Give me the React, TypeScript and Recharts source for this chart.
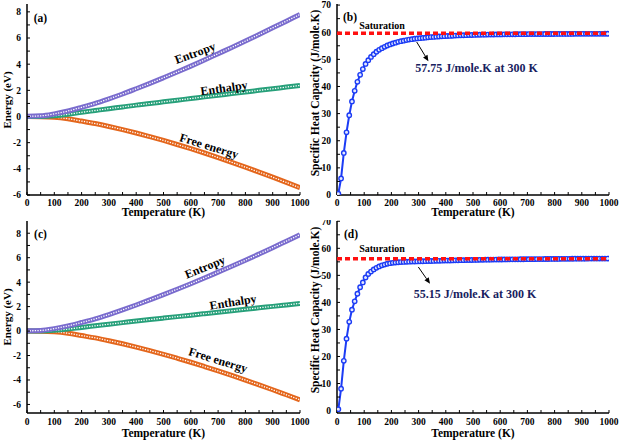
import React from "react";
import { LineChart, Line, XAxis, YAxis, ReferenceLine } from "recharts";

const FONT = '"Liberation Serif", "Times New Roman", serif';

// temperature grid for the energy panels (K)
const energyTemps = [0, 50, 100, 150, 200, 250, 300, 350, 400, 450, 500, 550, 600, 650, 700, 750, 800, 850, 900, 950, 1000];

// panel (a)
const entropyA = [0.02, 0.05, 0.2, 0.42, 0.7, 1.0, 1.35, 1.72, 2.12, 2.53, 2.96, 3.4, 3.85, 4.32, 4.8, 5.28, 5.77, 6.27, 6.78, 7.29, 7.8];
const enthalpyA = [0, 0.01, 0.06, 0.17, 0.32, 0.46, 0.6, 0.73, 0.87, 0.99, 1.12, 1.25, 1.37, 1.5, 1.62, 1.75, 1.87, 2.0, 2.12, 2.25, 2.37];
const freeEnergyA = [0, -0.01, -0.05, -0.17, -0.35, -0.54, -0.76, -1.0, -1.26, -1.54, -1.83, -2.14, -2.46, -2.79, -3.14, -3.5, -3.87, -4.25, -4.64, -5.04, -5.45];

// panel (c)
const entropyC = [0.02, 0.05, 0.2, 0.42, 0.7, 1.0, 1.35, 1.73, 2.13, 2.55, 2.98, 3.42, 3.87, 4.34, 4.82, 5.3, 5.79, 6.3, 6.82, 7.35, 7.88];
const enthalpyC = [0, 0.01, 0.06, 0.16, 0.3, 0.43, 0.56, 0.69, 0.82, 0.94, 1.06, 1.18, 1.3, 1.42, 1.54, 1.66, 1.78, 1.9, 2.02, 2.14, 2.26];
const freeEnergyC = [0, -0.01, -0.06, -0.18, -0.37, -0.56, -0.79, -1.04, -1.31, -1.6, -1.9, -2.22, -2.55, -2.9, -3.26, -3.63, -4.01, -4.4, -4.8, -5.21, -5.62];

// temperature grid for the heat capacity panels (K)
const cvTemps = [
  5, 15, 25, 35, 45, 55, 65, 75, 85, 95,
  105, 115, 125, 135, 145, 155, 165, 175, 185, 195,
  205, 215, 225, 235, 245, 255, 265, 275, 285, 295,
  305, 315, 325, 335, 345, 355, 365, 375, 385, 395,
  405, 415, 425, 435, 445, 455, 465, 475, 485, 495,
  505, 515, 525, 535, 545, 555, 565, 575, 585, 595,
  605, 615, 625, 635, 645, 655, 665, 675, 685, 695,
  705, 715, 725, 735, 745, 755, 765, 775, 785, 795,
  805, 815, 825, 835, 845, 855, 865, 875, 885, 895,
  905, 915, 925, 935, 945, 955, 965, 975, 985, 995,
];

// panel (b)
const cvB = [
  0.5, 6.1, 15.5, 23.1, 29.4, 34.5, 38.4, 41.7, 44.3, 46.4,
  48.3, 49.7, 50.9, 51.9, 52.8, 53.5, 54.1, 54.6, 55.1, 55.5,
  55.85, 56.15, 56.45, 56.7, 56.9, 57.1, 57.3, 57.45, 57.6, 57.7,
  57.8, 57.9, 58.0, 58.1, 58.2, 58.28, 58.35, 58.42, 58.48, 58.54,
  58.6, 58.65, 58.7, 58.75, 58.8, 58.84, 58.88, 58.92, 58.95, 58.98,
  59.01, 59.04, 59.06, 59.08, 59.1, 59.12, 59.14, 59.16, 59.17, 59.19,
  59.2, 59.21, 59.22, 59.23, 59.24, 59.25, 59.26, 59.27, 59.28, 59.29,
  59.3, 59.3, 59.31, 59.32, 59.32, 59.33, 59.34, 59.34, 59.35, 59.35,
  59.36, 59.36, 59.37, 59.37, 59.38, 59.38, 59.38, 59.39, 59.39, 59.4,
  59.4, 59.4, 59.41, 59.41, 59.41, 59.42, 59.42, 59.42, 59.43, 59.43,
];

// panel (d)
const cvD = [
  0.5, 8.1, 18.4, 26.6, 32.8, 37.3, 40.4, 43.2, 45.6, 47.4,
  49.2, 50.5, 51.4, 52.2, 52.8, 53.3, 53.7, 54.0, 54.3, 54.5,
  54.65, 54.75, 54.85, 54.92, 54.98, 55.03, 55.07, 55.1, 55.13, 55.15,
  55.18, 55.21, 55.24, 55.27, 55.3, 55.33, 55.36, 55.39, 55.42, 55.45,
  55.48, 55.5, 55.53, 55.55, 55.58, 55.6, 55.62, 55.64, 55.66, 55.68,
  55.7, 55.72, 55.74, 55.76, 55.78, 55.8, 55.81, 55.83, 55.84, 55.86,
  55.87, 55.88, 55.9, 55.91, 55.92, 55.93, 55.94, 55.95, 55.96, 55.97,
  55.98, 55.99, 56.0, 56.01, 56.02, 56.03, 56.04, 56.05, 56.06, 56.07,
  56.08, 56.09, 56.1, 56.11, 56.12, 56.13, 56.14, 56.15, 56.16, 56.17,
  56.18, 56.18, 56.19, 56.19, 56.2, 56.2, 56.21, 56.21, 56.22, 56.22,
];

const saturationB = 59.6;
const saturationD = 56.1;
const arrowB = [{ T: 293, v: 56.4 }, { T: 336, v: 49.3 }];
const arrowD = [{ T: 299, v: 53.1 }, { T: 342, v: 46.9 }];

const xTicks = [0, 50, 100, 150, 200, 250, 300, 350, 400, 450, 500, 550, 600, 650, 700, 750, 800, 850, 900, 950, 1000];
const energyTicks = [-6, -5, -4, -3, -2, -1, 0, 1, 2, 3, 4, 5, 6, 7, 8];
const cvTicks = [0, 5, 10, 15, 20, 25, 30, 35, 40, 45, 50, 55, 60, 65, 70];

const PURPLE = "#7a6cce";
const GREEN = "#27a07a";
const ORANGE = "#e4661c";
const BLUE = "#1c3cf5";

const tickStyle = { fill: "#000", fontSize: 9.5, fontWeight: 700, fontFamily: FONT };
const frame = { stroke: "#000", strokeWidth: 1.5 };

const ArrowShape = (p: any) => {
  const { x1, y1, x2, y2 } = p;
  const ang = Math.atan2(y2 - y1, x2 - x1);
  const bx = x2 - 6 * Math.cos(ang);
  const by = y2 - 6 * Math.sin(ang);
  const px = -Math.sin(ang) * 2.6;
  const py = Math.cos(ang) * 2.6;
  return (
    <g>
      <line x1={x1} y1={y1} x2={bx} y2={by} stroke="#000" strokeWidth={1} />
      <polygon points={`${x2},${y2} ${bx + px},${by + py} ${bx - px},${by - py}`} fill="#000" />
    </g>
  );
};

const Txt = ({ x, y, size = 11, rot = 0, color = "#000", children }: any) => (
  <div
    style={{
      position: "absolute",
      left: x,
      top: y,
      transform: `translate(-50%, -50%) rotate(${rot}deg)`,
      fontFamily: FONT,
      fontWeight: 700,
      fontSize: size,
      color,
      whiteSpace: "nowrap",
      lineHeight: 1,
    }}
  >
    {children}
  </div>
);

const Axes = ({ axisH, tickMargin, yDomain, yTicks, yStep }: any) => [
  <XAxis
    key="x"
    dataKey="T"
    type="number"
    domain={[0, 1000]}
    ticks={xTicks}
    interval={0}
    allowDataOverflow
    height={axisH}
    tickSize={-3}
    tickMargin={tickMargin}
    tickFormatter={(v: number) => (v % 100 === 0 ? String(v) : "")}
    tick={tickStyle}
    axisLine={frame}
    tickLine={{ stroke: "#000", strokeWidth: 1 }}
  />,
  <XAxis key="xt" xAxisId="top" orientation="top" dataKey="T" type="number" domain={[0, 1000]} height={0} tick={false} tickLine={false} axisLine={frame} />,
  <YAxis
    key="y"
    type="number"
    domain={yDomain}
    ticks={yTicks}
    interval={0}
    allowDataOverflow
    width={27}
    tickSize={-3}
    tickMargin={9}
    tickFormatter={(v: number) => (v % yStep === 0 ? String(v) : "")}
    tick={tickStyle}
    axisLine={frame}
    tickLine={{ stroke: "#000", strokeWidth: 1 }}
  />,
  <YAxis key="yr" yAxisId="right" orientation="right" type="number" domain={yDomain} width={0} tick={false} tickLine={false} axisLine={frame} />,
];

const EnergyPanel = ({ left, top, height, marginTop, axisH, tickMargin, yDomain, entropy, enthalpy, free }: any) => {
  const rows = energyTemps.map((T, i) => ({ T, s: entropy[i], h: enthalpy[i], f: free[i] }));
  const band = (key: string, color: string) => [
    <Line key={key} type="monotone" dataKey={key} stroke={color} strokeWidth={5} dot={false} isAnimationActive={false} />,
    <Line key={key + "w"} type="monotone" dataKey={key} stroke="#fff" strokeWidth={1.3} strokeDasharray="1.3 1.3" dot={false} isAnimationActive={false} />,
  ];
  return (
    <div style={{ position: "absolute", left, top }}>
      <LineChart width={310} height={height} data={rows} margin={{ top: marginTop, right: 10, bottom: 0, left: 0 }}>
        {Axes({ axisH, tickMargin, yDomain, yTicks: energyTicks, yStep: 2 })}
        {band("f", ORANGE)}
        {band("h", GREEN)}
        {band("s", PURPLE)}
      </LineChart>
    </div>
  );
};

const CvPanel = ({ left, top, height, marginTop, axisH, tickMargin, yDomain, cv, saturation, arrow }: any) => {
  const rows = cvTemps.map((T, i) => ({ T, cv: cv[i] }));
  const satRows = [{ T: 0, sat: saturation }, { T: 1000, sat: saturation }];
  return (
    <div style={{ position: "absolute", left, top }}>
      <LineChart width={310} height={height} data={rows} margin={{ top: marginTop, right: 11, bottom: 0, left: 0 }}>
        {Axes({ axisH, tickMargin, yDomain, yTicks: cvTicks, yStep: 10 })}
        <Line
          type="linear"
          dataKey="cv"
          stroke={BLUE}
          strokeWidth={2}
          dot={{ r: 2.2, fill: "#e4e9ff", stroke: BLUE, strokeWidth: 1.4 }}
          isAnimationActive={false}
        />
      </LineChart>
      {/* second layer so the saturation line and the arrow sit above the markers */}
      <div style={{ position: "absolute", left: 0, top: 0, pointerEvents: "none" }}>
        <LineChart width={310} height={height} data={satRows} margin={{ top: marginTop, right: 11, bottom: axisH, left: 27 }}>
          <XAxis dataKey="T" type="number" domain={[0, 1000]} allowDataOverflow hide />
          <YAxis type="number" domain={yDomain} allowDataOverflow hide />
          <Line type="linear" dataKey="sat" stroke="#ff1010" strokeWidth={3.5} strokeDasharray="5 3" dot={false} isAnimationActive={false} />
          <ReferenceLine
            segment={[{ x: arrow[0].T, y: arrow[0].v }, { x: arrow[1].T, y: arrow[1].v }]}
            shape={ArrowShape}
            ifOverflow="visible"
          />
        </LineChart>
      </div>
    </div>
  );
};

export default function App() {
  return (
    <div style={{ position: "absolute", left: 0, top: 0, width: 620, height: 442, background: "#fff", overflow: "hidden" }}>
      <EnergyPanel left={0} top={0} height={220} marginTop={4} axisH={25} tickMargin={6.8} yDomain={[-6, 8.6]}
        entropy={entropyA} enthalpy={enthalpyA} free={freeEnergyA} />
      <CvPanel left={310} top={0} height={220} marginTop={4} axisH={25} tickMargin={6.8} yDomain={[0, 70.4]}
        cv={cvB} saturation={saturationB} arrow={arrowB} />
      <EnergyPanel left={0} top={220} height={222} marginTop={1} axisH={29} tickMargin={8} yDomain={[-6.7, 9.0]}
        entropy={entropyC} enthalpy={enthalpyC} free={freeEnergyC} />
      <CvPanel left={310} top={220} height={222} marginTop={1} axisH={29} tickMargin={8} yDomain={[-0.9, 70.1]}
        cv={cvD} saturation={saturationD} arrow={arrowD} />

      <Txt x={40.5} y={19.3} size={11.5}>(a)</Txt>
      <Txt x={350} y={18.3} size={11.5}>(b)</Txt>
      <Txt x={40.5} y={234.7} size={11.5}>(c)</Txt>
      <Txt x={351} y={234.7} size={11.5}>(d)</Txt>

      <Txt x={195} y={53.3} size={12} rot={-20}>Entropy</Txt>
      <Txt x={223.7} y={88.3} size={12} rot={-8}>Enthalpy</Txt>
      <Txt x={209} y={145.7} size={12} rot={17}>Free energy</Txt>
      <Txt x={205} y={267.3} size={12} rot={-22}>Entropy</Txt>
      <Txt x={233.3} y={301.7} size={12} rot={-9}>Enthalpy</Txt>
      <Txt x={218.3} y={360} size={12} rot={17}>Free energy</Txt>

      <Txt x={382} y={25.5} size={10}>Saturation</Txt>
      <Txt x={382} y={249} size={10}>Saturation</Txt>
      <Txt x={476.5} y={68.3} size={12} color="#17215e">57.75 J/mole.K at 300 K</Txt>
      <Txt x={475} y={294} size={12} color="#17215e">55.15 J/mole.K at 300 K</Txt>

      <Txt x={163.5} y={213} size={11.5}>Temperature (K)</Txt>
      <Txt x={473} y={213} size={11.5}>Temperature (K)</Txt>
      <Txt x={163.5} y={434} size={11.5}>Temperature (K)</Txt>
      <Txt x={473} y={434} size={11.5}>Temperature (K)</Txt>

      <Txt x={6.5} y={99.5} size={11} rot={-90}>Energy (eV)</Txt>
      <Txt x={6.5} y={316.5} size={11} rot={-90}>Energy (eV)</Txt>
      <Txt x={315.5} y={93} size={11.5} rot={-90}>Specific Heat Capacity (J/mole.K)</Txt>
      <Txt x={315.5} y={309.5} size={11.5} rot={-90}>Specific Heat Capacity (J/mole.K)</Txt>
    </div>
  );
}
